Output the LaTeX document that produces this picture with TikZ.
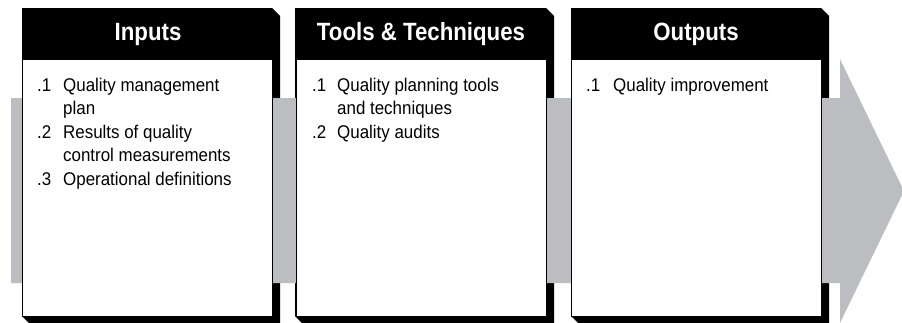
\documentclass[tikz,border=0pt]{standalone}
\usepackage{fontspec}
\setmainfont{Liberation Sans}
\newfontfamily\hdfont[FakeStretch=0.89]{Liberation Sans}
\newfontfamily\itemfont[FakeStretch=0.92]{Liberation Sans}
\definecolor{arrowgray}{RGB}{188,189,193}
\tikzset{
  hdr/.style={text=white,inner sep=0pt,font=\hdfont\bfseries\fontsize{25}{29}\selectfont},
  body/.style={draw=black,fill=white,line width=0.8pt,inner sep=0pt,anchor=north west,
    minimum width=250pt,minimum height=257pt},
  items/.style={inner sep=0pt,anchor=base west,font=\itemfont\fontsize{18.4}{23.5}\selectfont}
}

\begin{document}
\begin{tikzpicture}[x=1pt,y=-1pt]
   \useasboundingbox (0,0) rectangle (902,322);

   \fill (22,8) -- (272,8) -- (280,16) -- (280,324) -- (30,324) -- (22,316) -- cycle;
   \fill (295,8) -- (546,8) -- (554,16) -- (554,324) -- (303,324) -- (295,316) -- cycle;
   \fill (571,8) -- (821,8) -- (829,16) -- (829,324) -- (579,324) -- (571,316) -- cycle;

   \fill[arrowgray] (11,98) -- (840,98) -- (840,59) -- (904,191) -- (840,323)
      -- (840,283) -- (11,283) -- cycle;

   \node[body] (b1) at (22,59) {};
   \node[body] (b2) at (296,59) {};
   \node[body] (b3) at (571,59) {};

   \node[hdr] (h1) at (148,34) {Inputs};
   \node[hdr] (h2) at (421,34) {Tools \& Techniques};
   \node[hdr] (h3) at (696,34) {Outputs};

   \node[items] (l1) at (37,91) {\begin{tabular}[t]{@{}p{26pt}@{}l@{}}
      .1 & Quality management\\
         & plan\\
      .2 & Results of quality\\
         & control measurements\\
      .3 & Operational definitions
   \end{tabular}};
   \node[items] (l2) at (312,91) {\begin{tabular}[t]{@{}p{25pt}@{}l@{}}
      .1 & Quality planning tools\\
         & and techniques\\
      .2 & Quality audits
   \end{tabular}};
   \node[items] (l3) at (586,91) {\begin{tabular}[t]{@{}p{27pt}@{}l@{}}
      .1 & Quality improvement
   \end{tabular}};
\end{tikzpicture}
\end{document}
